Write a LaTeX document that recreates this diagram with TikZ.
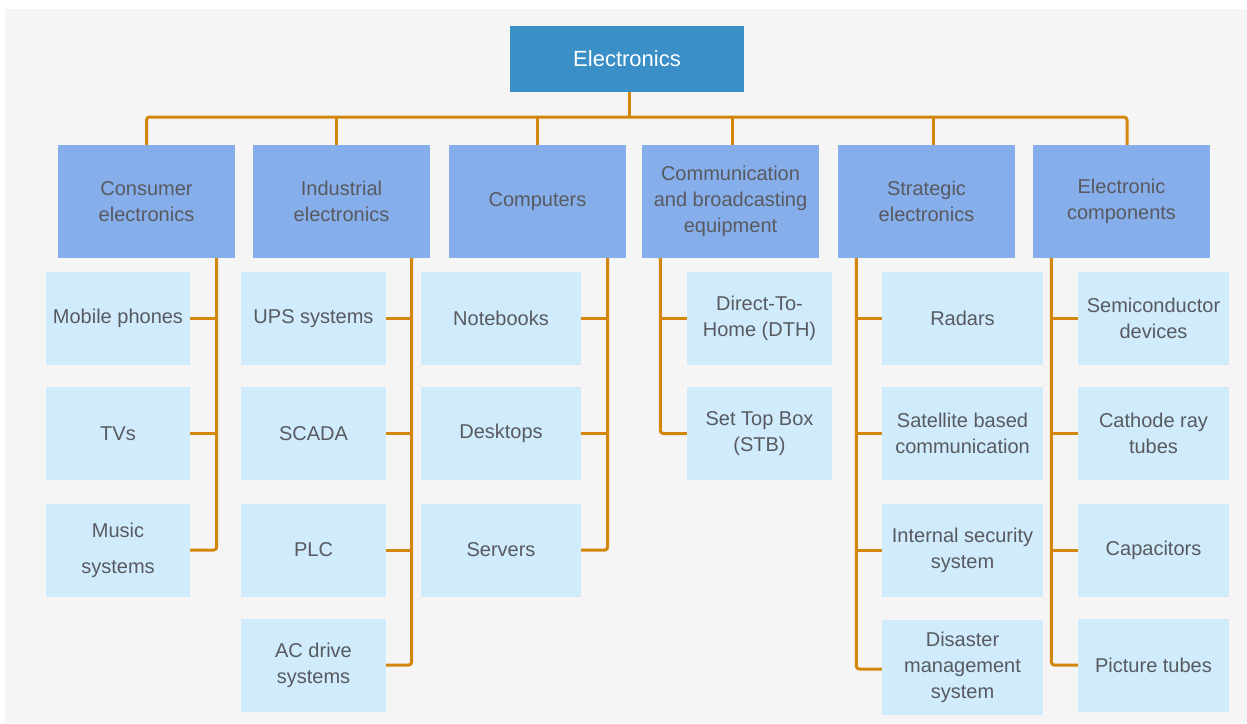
\documentclass[tikz,border=0pt]{standalone}
\usepackage{fontspec}
\setmainfont{Liberation Sans}
\definecolor{bgc}{RGB}{245,245,245}
\definecolor{rootc}{RGB}{58,143,199}
\definecolor{catc}{RGB}{134,174,235}
\definecolor{itemc}{RGB}{207,235,252}
\definecolor{linkc}{RGB}{210,135,12}
\definecolor{txtc}{RGB}{88,90,95}
\begin{document}
\begin{tikzpicture}[x=1pt,y=-1pt,
  box/.style={draw=none, inner sep=0pt, align=center, text=txtc,
    font=\fontsize{20}{26}\selectfont},
  rootbox/.style={box, fill=rootc, text=white, minimum width=234pt, minimum height=66pt,
    font=\fontsize{22}{26}\selectfont},
  catbox/.style={box, fill=catc, minimum width=177pt, minimum height=113pt},
  itembox/.style={box, fill=itemc, minimum height=93pt},
  link/.style={draw=linkc, line width=3pt, rounded corners=3pt}
]
\useasboundingbox (0,0) rectangle (1247,723);
\fill[bgc] (5,9) rectangle (1247,723);

% root
\node[rootbox] (root) at (627,58.5) {Electronics};

% categories
\node[catbox] (cons) at (146.5,201.5) {Consumer\\electronics};
\node[catbox] (ind)  at (341.5,201.5) {Industrial\\electronics};
\node[catbox] (comp) at (537.5,201.5) {Computers};
\node[catbox] (comm) at (730.5,201.5) {Communication\\and broadcasting\\equipment};
\node[catbox] (strat) at (926.5,201.5) {Strategic\\electronics};
\node[catbox] (elc)  at (1121.5,201.5) {Electronic\\components};

% consumer electronics
\node[itembox, minimum width=144pt] (mob) at (118,318.5) {Mobile phones};
\node[itembox, minimum width=144pt] (tv)  at (118,433.5) {TVs};
\node[itembox, minimum width=144pt] (mus) at (118,550) {Music\\[10pt]systems};

% industrial electronics
\node[itembox, minimum width=145pt] (ups)  at (313.5,318.5) {UPS systems};
\node[itembox, minimum width=145pt] (scada) at (313.5,433.5) {SCADA};
\node[itembox, minimum width=145pt] (plc)  at (313.5,550) {PLC};
\node[itembox, minimum width=145pt] (acd)  at (313.5,665) {AC drive\\systems};

% computers
\node[itembox, minimum width=160pt] (note) at (501,318.5) {Notebooks};
\node[itembox, minimum width=160pt] (desk) at (501,433.5) {Desktops};
\node[itembox, minimum width=160pt] (serv) at (501,550) {Servers};

% communication and broadcasting
\node[itembox, minimum width=145pt] (dth) at (759.5,318.5) {Direct-To-\\Home (DTH)};
\node[itembox, minimum width=145pt] (stb) at (759.5,433.5) {Set Top Box\\(STB)};

% strategic electronics
\node[itembox, minimum width=161pt] (rad) at (962.5,318.5) {Radars};
\node[itembox, minimum width=161pt] (sat) at (962.5,433.5) {Satellite based\\communication};
\node[itembox, minimum width=161pt] (sec) at (962.5,550) {Internal security\\system};
\node[itembox, minimum width=161pt, minimum height=95pt] (dis) at (962.5,667) {Disaster\\management\\system};

% electronic components
\node[itembox, minimum width=151pt] (semi) at (1153.5,318.5) {Semiconductor\\devices};
\node[itembox, minimum width=151pt] (crt)  at (1153.5,433.5) {Cathode ray\\tubes};
\node[itembox, minimum width=151pt] (cap)  at (1153.5,550) {Capacitors};
\node[itembox, minimum width=151pt] (pic)  at (1153.5,665) {Picture tubes};

% top-level bus
\coordinate (bus) at (629,117);
\draw[link] (root.south -| bus) -- (bus);
\draw[link] (cons.north) |- (bus) -| ([xshift=5.5pt]elc.north);
\draw[link] ([xshift=-5pt]ind.north) -- ([xshift=-5pt]ind.north |- bus);
\draw[link] (comp.north) -- (comp.north |- bus);
\draw[link] ([xshift=1.5pt]comm.north) -- ([xshift=1.5pt]comm.north |- bus);
\draw[link] ([xshift=6.5pt]strat.north) -- ([xshift=6.5pt]strat.north |- bus);

% trunks under each category
\coordinate (tcons)  at ([xshift=-18.5pt]cons.south east);
\coordinate (tind)   at ([xshift=-18.5pt]ind.south east);
\coordinate (tcomp)  at ([xshift=-18.5pt]comp.south east);
\coordinate (tcomm)  at ([xshift=18.5pt]comm.south west);
\coordinate (tstrat) at ([xshift=18.5pt]strat.south west);
\coordinate (telc)   at ([xshift=18.5pt]elc.south west);

\draw[link] (tcons) |- (mus.east);
\draw[link] (mob.east) -- (mob.east -| tcons);
\draw[link] (tv.east) -- (tv.east -| tcons);

\draw[link] (tind) |- (acd.east);
\draw[link] (ups.east) -- (ups.east -| tind);
\draw[link] (scada.east) -- (scada.east -| tind);
\draw[link] (plc.east) -- (plc.east -| tind);

\draw[link] (tcomp) |- (serv.east);
\draw[link] (note.east) -- (note.east -| tcomp);
\draw[link] (desk.east) -- (desk.east -| tcomp);

\draw[link] (tcomm) |- (stb.west);
\draw[link] (dth.west) -- (dth.west -| tcomm);

\draw[link] (tstrat) |- ([yshift=-2pt]dis.west);
\draw[link] (rad.west) -- (rad.west -| tstrat);
\draw[link] (sat.west) -- (sat.west -| tstrat);
\draw[link] (sec.west) -- (sec.west -| tstrat);

\draw[link] (telc) |- (pic.west);
\draw[link] (semi.west) -- (semi.west -| telc);
\draw[link] (crt.west) -- (crt.west -| telc);
\draw[link] (cap.west) -- (cap.west -| telc);
\end{tikzpicture}
\end{document}
